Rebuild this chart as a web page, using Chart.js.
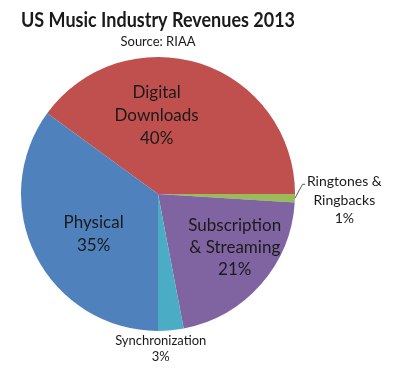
<!DOCTYPE html>
<html lang="en">
<head>
    <meta charset="UTF-8">
    <title>US Music Industry Revenues 2013</title>
    <script src="https://cdn.jsdelivr.net/npm/chart.js"></script>
    <style>
        html, body {
            margin: 0;
            padding: 0;
            background: #ffffff;
        }

        #wrap {
            position: relative;
            width: 399px;
            height: 375px;
        }
    </style>
</head>
<body>

    <div id="wrap">
        <canvas id="myChart"></canvas>
    </div>

    <script>
        // データ（RIAA 2013）
        var categories = [
            ['Digital', 'Downloads'],
            ['Ringtones &', 'Ringbacks'],
            ['Subscription', '& Streaming'],
            ['Synchronization'],
            ['Physical']
        ];
        var shares = [40, 1, 21, 3, 35];
        var sliceColors = ['#C0504D', '#9BBB59', '#8064A2', '#4BACC6', '#4F81BD'];

        var FONT = 'Lato, "Open Sans", sans-serif';

        // ラベル位置（円の中心からの比率、半径単位）とフォントサイズ
        var labelStyle = [
            { fx: -0.01, fy: -0.57, size: 17, lh: 23 },
            { fx: 1.36,  fy: 0.045, size: 14, lh: 18.5, leader: true },
            { fx: 0.56,  fy: 0.39,  size: 17, lh: 22 },
            { fx: 0.02,  fy: 1.13,  size: 13, lh: 16 },
            { fx: -0.47, fy: 0.29,  size: 17, lh: 23 }
        ];

        var sliceLabels = {
            id: 'sliceLabels',
            afterDatasetsDraw: function (chart) {
                var ctx = chart.ctx;
                var meta = chart.getDatasetMeta(0);
                var values = chart.data.datasets[0].data;
                ctx.save();
                meta.data.forEach(function (arc, i) {
                    var st = labelStyle[i];
                    var r = arc.outerRadius;
                    var lx = arc.x + st.fx * r;
                    var ly = arc.y + st.fy * r;
                    var lines = chart.data.labels[i].concat([values[i] + '%']);

                    if (st.leader) {
                        var mid = (arc.startAngle + arc.endAngle) / 2;
                        ctx.strokeStyle = '#595959';
                        ctx.lineWidth = 1;
                        ctx.beginPath();
                        ctx.moveTo(arc.x + Math.cos(mid) * r, arc.y + Math.sin(mid) * r);
                        ctx.lineTo(arc.x + 1.055 * r, arc.y - 0.07 * r);
                        ctx.lineTo(arc.x + 1.075 * r, arc.y - 0.07 * r);
                        ctx.stroke();
                    }

                    ctx.fillStyle = '#1a1a1a';
                    ctx.font = st.size + 'px ' + FONT;
                    ctx.textAlign = 'center';
                    ctx.textBaseline = 'middle';
                    var top = ly - (lines.length - 1) * st.lh / 2;
                    lines.forEach(function (t, k) {
                        ctx.fillText(t, lx, top + k * st.lh);
                    });
                });
                ctx.restore();
            }
        };

        var myChart = new Chart(document.getElementById('myChart'), {
            type: 'pie',
            data: {
                labels: categories,
                datasets: [{
                    data: shares,
                    backgroundColor: sliceColors,
                    borderWidth: 0
                }]
            },
            options: {
                responsive: true,
                maintainAspectRatio: false,
                animation: false,
                rotation: -54,
                layout: {
                    padding: { left: 21, right: 104, top: 0, bottom: 44 }
                },
                plugins: {
                    legend: { display: false },
                    tooltip: { enabled: false },
                    title: {
                        display: true,
                        text: 'US Music Industry Revenues 2013',
                        color: '#1a1a1a',
                        font: { family: FONT, size: 21, weight: 'bold', lineHeight: 1.15 },
                        padding: { top: 8, bottom: 2 }
                    },
                    subtitle: {
                        display: true,
                        text: 'Source: RIAA',
                        color: '#1a1a1a',
                        font: { family: FONT, size: 13, lineHeight: 1.2 },
                        padding: { top: 0, bottom: 7 }
                    }
                }
            },
            plugins: [sliceLabels]
        });
    </script>

</body>
</html>
